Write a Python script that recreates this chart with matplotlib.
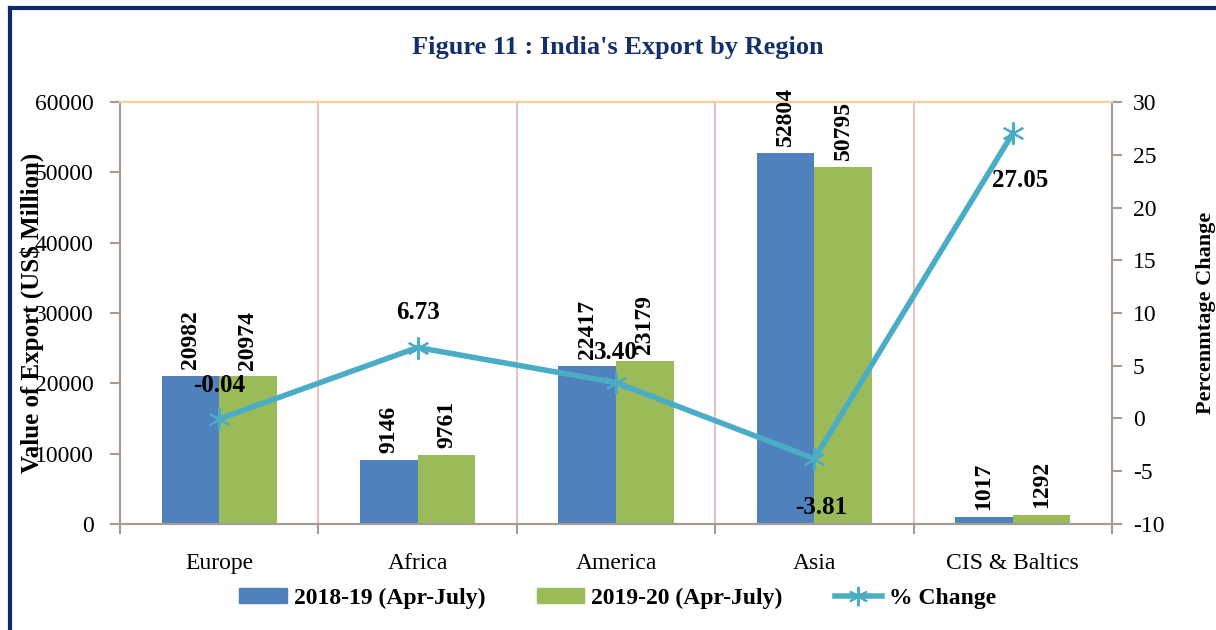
import matplotlib
matplotlib.use('Agg')
import matplotlib.pyplot as plt
import numpy as np
from matplotlib.lines import Line2D

plt.rcParams['font.family'] = 'Liberation Serif'
plt.rcParams['axes.unicode_minus'] = False

regions = ['Europe', 'Africa', 'America', 'Asia', 'CIS & Baltics']
exp_2018 = [20982, 9146, 22417, 52804, 1017]
exp_2019 = [20974, 9761, 23179, 50795, 1292]
pct_change = [-0.04, 6.73, 3.40, -3.81, 27.05]
series_names = ['2018-19 (Apr-July)', '2019-20 (Apr-July)', '% Change']

blue = '#4F81BD'
green = '#9BBB59'
teal = '#4BACC6'
spine_col = '#A59D95'

fig = plt.figure(figsize=(12.16, 6.3), dpi=100)
ax = fig.add_axes([0.0987, 0.1683, 0.8158, 0.6697])
ax2 = ax.twinx()

x = np.arange(len(regions))
w = 0.29
b1 = ax.bar(x - w / 2, exp_2018, w, color=blue, label=series_names[0], zorder=2)
b2 = ax.bar(x + w / 2, exp_2019, w, color=green, label=series_names[1], zorder=2)

for bars in (b1, b2):
    for r in bars:
        ax.annotate(f'{int(r.get_height())}', (r.get_x() + r.get_width() / 2, r.get_height()),
                    xytext=(0, 5), textcoords='offset points', rotation=90,
                    ha='center', va='bottom', fontsize=17, fontweight='bold',
                    annotation_clip=False, zorder=5)

ax.set_xlim(-0.5, len(regions) - 0.5)
ax.set_ylim(0, 60000)
ax.set_yticks(np.arange(0, 60001, 10000))
ax.set_xticks(x)
ax.set_xticklabels(regions, fontsize=17)
ax.tick_params(axis='x', length=0, pad=21)
ax.set_xticks(np.arange(-0.5, len(regions)), minor=True)
ax.tick_params(axis='x', which='minor', length=7, color=spine_col, width=1.5)
ax.tick_params(axis='y', labelsize=17, length=7, color=spine_col, width=1.5, pad=12)
for xs in np.arange(0.5, len(regions) - 0.5):
    ax.axvline(xs, color='#E6B5B3', lw=1.2, zorder=1)

for a in (ax, ax2):
    a.spines['left'].set_color(spine_col)
    a.spines['bottom'].set_color(spine_col)
    a.spines['right'].set_color(spine_col)
    a.spines['top'].set_color('#FBCB9E')
    for s in ('left', 'bottom', 'right', 'top'):
        a.spines[s].set_linewidth(1.5)

ax.set_ylabel('Value of Export (US$ Million)', fontsize=18, fontweight='bold')
ax.yaxis.set_label_coords(-0.077, 0.5)

ax2.plot(x, pct_change, color=teal, lw=4, marker=(6, 2, 0), markersize=16,
         markeredgewidth=1.5, markeredgecolor=teal, zorder=4)
ax2.set_ylim(-10, 30)
ax2.set_yticks(np.arange(-10, 31, 5))
ax2.tick_params(axis='y', labelsize=17, length=7, color=spine_col, width=1.5, pad=8)
ax2.set_ylabel('Percenmtage Change', fontsize=16, fontweight='bold')
ax2.yaxis.set_label_coords(1.085, 0.5)

offsets = [(0, 24), (0, 25), (0, 22), (5, -35), (5, -34)]
for xi, v, off in zip(x, pct_change, offsets):
    ax2.annotate(f'{v:.2f}', (xi, v), xytext=off, textcoords='offset points',
                 ha='center', va='center', fontsize=18, fontweight='bold', zorder=6)

fig.text(0.508, 0.925, "Figure 11 : India's Export by Region", ha='center', va='center',
         fontsize=19, fontweight='bold', color='#13306B')

handles = [plt.Rectangle((0, 0), 1, 1, color=blue), plt.Rectangle((0, 0), 1, 1, color=green),
           Line2D([], [], color=teal, lw=4, marker=(6, 2, 0), markersize=14, markeredgewidth=1.5)]
fig.legend(handles, series_names, loc='center', bbox_to_anchor=(0.508, 0.05), ncol=3,
           frameon=False, prop={'size': 17, 'weight': 'bold'}, handlelength=2.0,
           handleheight=0.6, columnspacing=2.2, handletextpad=0.3)

fig.add_artist(Line2D([0.0085, 1.0], [0.987, 0.987], transform=fig.transFigure, color='#0D2A6B', lw=3))
fig.add_artist(Line2D([0.0085, 0.0085], [0.0, 0.987], transform=fig.transFigure, color='#0D2A6B', lw=3))

fig.savefig('out.png', dpi=100)
